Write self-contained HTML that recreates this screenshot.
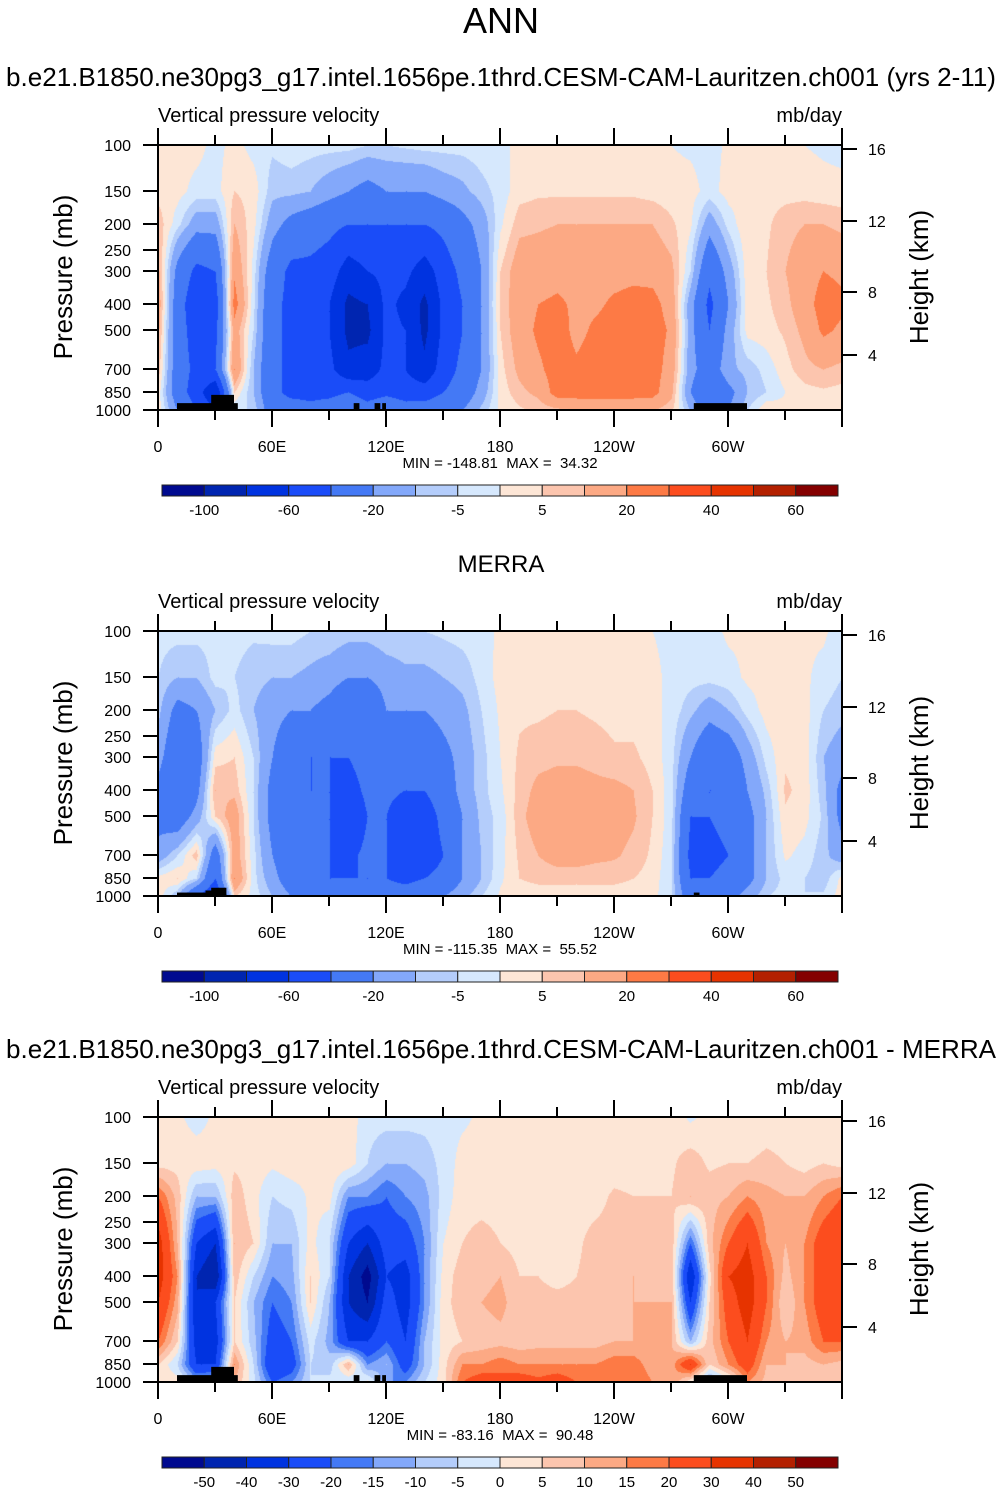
<!DOCTYPE html>
<html><head><meta charset="utf-8">
<style>
body{margin:0;background:#fff;width:1001px;height:1492px;position:relative;overflow:hidden;font-family:"Liberation Sans",Arial,sans-serif;}
svg{position:absolute;left:0;top:0}
canvas{position:absolute}
</style></head>
<body>
<canvas id="c1" width="684" height="265" style="left:158px;top:145px"></canvas>
<canvas id="c2" width="684" height="265" style="left:158px;top:631px"></canvas>
<canvas id="c3" width="684" height="265" style="left:158px;top:1117px"></canvas>
<svg id="ov" width="1001" height="1492"></svg>
<script>
// pressure rows (mb) and longitude columns (deg east)
const levels = [100,150,200,300,400,500,700,850,1000];
const lons = [0,10,20,30,40,50,60,70,80,90,100,110,120,130,140,150,160,170,180,190,200,210,220,230,240,250,260,270,280,290,300,310,320,330,340,350,360];
// panel 1: model (each row = one longitude, values top->bottom by level)
const modelVals = [
[2,3,8,12,15,12,8,3,3],[2,2,-3,-25,-30,-30,-30,-30,-20],[2,-2,-15,-45,-55,-50,-45,-50,-40],[-2,-2,-15,-40,-50,-45,-40,-80,-60],
[2,5,10,18,25,15,20,5,-5],[-2,3,2,-2,-3,-5,-10,-10,-5],[-4,-8,-15,-30,-35,-35,-35,-35,-30],[-2,-8,-25,-45,-45,-45,-45,-45,-30],
[-3,-10,-30,-45,-45,-45,-45,-45,-35],[-3,-15,-35,-50,-60,-60,-55,-45,-30],[-3,-20,-40,-70,-85,-85,-75,-40,-20],[-5,-25,-40,-60,-80,-85,-70,-50,-30],
[-5,-20,-40,-55,-55,-55,-55,-45,-20],[-4,-20,-40,-55,-65,-60,-60,-50,-30],[-3,-20,-40,-70,-85,-85,-75,-50,-30],[-3,-15,-35,-50,-55,-55,-50,-40,-25],
[-3,-12,-25,-35,-40,-40,-35,-30,-20],[-2,-7,-15,-20,-20,-20,-20,-15,-8],[-1,-3,-1,5,6,5,3,2,1],[1,3,8,15,15,15,12,8,4],
[2,4,9,15,20,22,18,12,6],[2,4,10,16,22,25,25,25,8],[2,4,10,16,18,17,22,25,10],[2,4,10,16,18,22,25,25,10],
[2,4,10,16,22,25,26,25,10],[2,4,10,17,24,26,26,25,10],[1,3,10,16,24,26,25,24,10],[0,2,6,12,15,18,15,12,6],
[-1,2,1,-5,-15,-15,-15,-20,-10],[-2,-2,-15,-35,-45,-40,-30,-40,-30],[1,2,-3,-15,-20,-15,-12,-25,-20],[2,2,4,3,3,2,-8,-10,-5],
[2,3,4,5,4,3,-3,-5,5],[1,3,8,10,8,6,3,0,2],[0,3,10,15,15,12,8,3,2],[-1,2,10,20,25,22,10,4,2],[-2,2,8,18,22,18,8,3,2]];
// panel 2: MERRA
const merraVals = [
[-3,-5,-8,-15,-25,-25,-15,2,3],[-3,-10,-25,-35,-40,-30,-5,5,-10],[-3,-10,-20,-30,-25,-15,8,-5,-40],[-3,-3,-10,3,10,5,-30,-40,-60],
[-3,-5,-3,5,8,15,15,20,5],[-4,-8,-10,-5,-5,-5,-3,-3,-2],[-3,-10,-15,-20,-25,-25,-20,-15,-10],[-3,-10,-20,-35,-35,-35,-35,-30,-20],
[-5,-12,-20,-40,-40,-35,-35,-35,-25],[-5,-15,-25,-40,-40,-40,-40,-40,-30],[-7,-20,-35,-40,-50,-60,-45,-40,-25],[-7,-20,-35,-30,-35,-40,-35,-40,-25],
[-5,-15,-20,-25,-35,-40,-40,-40,-30],[-5,-12,-20,-35,-40,-55,-55,-45,-30],[-5,-12,-20,-35,-40,-50,-50,-40,-25],[-4,-10,-15,-25,-30,-35,-40,-35,-20],
[-3,-8,-12,-15,-15,-20,-20,-20,-12],[-2,-3,-5,-7,-7,-8,-10,-10,-5],[1,2,1,0,-1,-3,-2,-1,1],[1,2,4,6,7,8,6,5,3],
[1,2,4,8,12,14,10,6,3],[1,2,5,9,13,16,14,6,3],[1,2,5,9,13,15,14,6,3],[1,2,4,8,12,14,12,6,3],
[1,2,3,6,12,14,11,6,3],[1,2,3,6,10,11,8,5,3],[0,2,2,3,5,5,4,3,2],[-2,-2,-2,-3,-3,-3,-4,-5,-5],
[-2,-3,-8,-20,-30,-40,-45,-40,-30],[-2,-3,-15,-35,-40,-40,-45,-40,-30],[1,-2,-10,-30,-40,-35,-40,-35,-25],[1,1,-3,-15,-20,-25,-25,-25,-15],
[1,2,2,-3,-8,-10,-10,-10,-5],[1,2,3,4,6,4,1,-3,-3],[1,1,2,3,3,2,-2,-5,-5],[1,-2,-5,-10,-8,-6,-8,-8,-4],[-3,-5,-8,-15,-25,-25,-15,2,3]];
// panel 3: model - MERRA
const diffVals = [
[1,3,20,35,35,30,20,5,3],[1,3,8,10,15,12,5,-5,3],[-2,3,-10,-30,-40,-40,-35,-30,-10],[1,2,-10,-40,-50,-30,-35,-30,-5],
[3,4,8,10,8,5,5,15,10],[3,3,2,5,-5,-10,-8,-5,-3],[1,1,-5,-10,-15,-20,-25,-30,-20],[2,3,-3,-10,-12,-15,-20,-25,-15],
[1,2,1,2,5,5,-3,-5,-5],[1,4,2,-5,-5,-10,-12,-8,-3],[3,3,-15,-30,-40,-40,-30,10,-5],[-3,-5,-15,-40,-55,-50,-30,-15,2],
[-3,-10,-20,-25,-30,-25,-20,-10,-15],[-3,-10,-15,-25,-35,-35,-30,-25,-15],[-3,-8,-12,-15,-15,-15,-10,-10,-5],[-2,-3,-3,0,2,3,2,3,3],
[-1,2,3,5,8,8,5,15,20],[1,2,3,7,8,10,7,15,25],[1,2,3,5,10,12,8,18,22],[1,3,3,3,5,6,7,15,25],
[2,3,3,4,5,6,8,15,22],[1,2,3,4,4,6,8,15,25],[1,3,3,4,5,6,8,15,20],[1,2,3,7,7,6,8,15,20],
[1,2,6,7,8,8,10,18,20],[1,2,5,8,10,10,10,18,20],[2,3,5,8,8,10,10,12,15],[3,4,5,8,8,10,10,12,15],
[-1,8,10,-20,-40,-30,-10,30,0],[2,4,8,8,3,5,8,5,-15],[2,5,10,20,30,25,20,15,-5],[2,5,15,30,35,35,30,25,15],
[3,6,12,15,20,20,15,10,8],[3,5,10,10,8,5,10,10,8],[1,3,10,15,15,15,12,8,5],[1,5,15,25,25,25,20,10,5],[1,3,20,30,30,30,20,8,5]];
const absBounds = [-100,-80,-60,-40,-20,-10,-5,0,5,10,20,30,40,50,60];
const diffBounds = [-50,-40,-30,-20,-15,-10,-5,0,5,10,15,20,30,40,50];
const absLabels = ["-100","","-60","","-20","","-5","","5","","20","","40","","60"];
const diffLabels = ["-50","-40","-30","-20","-15","-10","-5","0","5","10","15","20","30","40","50"];
const palette = ["#000a8f","#0025b0","#0033e0","#1a4cf8","#4479f5","#83a8fa","#b4cdfb","#d6e8fd","#fde6d6","#fcc5ae","#fca984","#fd7a45","#fc4d1e","#e63300","#b32000","#840000"];
const yTickLabels = ["100","150","200","250","300","400","500","700","850","1000"];
const yTickP = [100,150,200,250,300,400,500,700,850,1000];
const hTickLabels = ["16","12","8","4"];
const hTickKm = [16,12,8,4];
const xTickLabels = ["0","60E","120E","180","120W","60W"];
const xTickLon = [0,60,120,180,240,300];
const panelTitles = ["b.e21.B1850.ne30pg3_g17.intel.1656pe.1thrd.CESM-CAM-Lauritzen.ch001 (yrs 2-11)","MERRA","b.e21.B1850.ne30pg3_g17.intel.1656pe.1thrd.CESM-CAM-Lauritzen.ch001 - MERRA"];
const minMax = ["MIN = -148.81  MAX =  34.32","MIN = -115.35  MAX =  55.52","MIN = -83.16  MAX =  90.48"];
// terrain blocks [lon0, lon1, surface height above 1000mb line in km-ish units]
const terrainModel = [[10,42,0.5],[28,40,1.1],[103,106,0.5],[114,117,0.5],[118,120,0.5],[282,310,0.5]];
const terrainMerra = [[10,35,0.25],[25,35,0.4],[28,36,0.6],[282,285,0.25]];

// axis functions
const PW=684, PH=265;
const pPix=[[100,0],[150,46],[200,79],[250,105],[300,126],[400,159],[500,185],[700,224],[850,247],[1000,265]];
const kmPix=[[16,4],[12,76],[8,147],[4,210],[0,265]];
function yOfP(p){for(let i=0;i<pPix.length-1;i++){const a=pPix[i],b=pPix[i+1];if(p<=b[0]){const t=(Math.log(p)-Math.log(a[0]))/(Math.log(b[0])-Math.log(a[0]));return a[1]+t*(b[1]-a[1]);}}return PH;}
function yOfKm(k){for(let i=0;i<kmPix.length-1;i++){const a=kmPix[i],b=kmPix[i+1];if(k>=b[0]){return a[1]+(a[0]-k)/(a[0]-b[0])*(b[1]-a[1]);}}return PH;}
function xOfLon(l){return l/360*PW;}
function colorFor(v,b){let i=0;while(i<b.length&&v>=b[i])i++;return palette[i];}
function hex(c){return [parseInt(c.slice(1,3),16),parseInt(c.slice(3,5),16),parseInt(c.slice(5,7),16)];}

function drawField(id,vals,bounds){
  const cv=document.getElementById(id),ctx=cv.getContext('2d');
  const img=ctx.createImageData(PW,PH);
  const rowY=levels.map(yOfP);
  const colX=lons.map(xOfLon);
  for(let y=0;y<PH;y++){
    let r=0;while(r<rowY.length-2&&y>rowY[r+1])r++;
    const ty=Math.min(1,Math.max(0,(y-rowY[r])/(rowY[r+1]-rowY[r])));
    for(let x=0;x<PW;x++){
      let c=Math.min(lons.length-2,Math.floor(x/(colX[1]-colX[0])));
      const tx=(x-colX[c])/(colX[c+1]-colX[c]);
      const v=(1-tx)*((1-ty)*vals[c][r]+ty*vals[c][r+1])+tx*((1-ty)*vals[c+1][r]+ty*vals[c+1][r+1]);
      const col=hex(colorFor(v,bounds));const k=(y*PW+x)*4;
      img.data[k]=col[0];img.data[k+1]=col[1];img.data[k+2]=col[2];img.data[k+3]=255;
    }
  }
  ctx.putImageData(img,0,0);
}
drawField('c1',modelVals,absBounds);
drawField('c2',merraVals,absBounds);
drawField('c3',diffVals,diffBounds);

const ov=document.getElementById('ov');const NS='http://www.w3.org/2000/svg';
function mk(tag,attrs,txt){const e=document.createElementNS(NS,tag);for(const k in attrs)e.setAttribute(k,attrs[k]);if(txt!==undefined)e.textContent=txt;ov.appendChild(e);return e;}

let e=mk('text',{x:501,y:33,'font-size':36,'text-anchor':'middle'},'ANN');



const offs=[0,486,972];
offs.forEach((o,pi)=>{
  const L=158,T=145+o;
  const bounds=pi===2?diffBounds:absBounds;const labs=pi===2?diffLabels:absLabels;
  e=mk('text',{x:501,y:86+o,'font-size':pi===1?24:26,'text-anchor':'middle',textLength:pi===1?'':'990',lengthAdjust:'spacingAndGlyphs'},panelTitles[pi]);
  if(pi===1)e.removeAttribute('textLength');
  
  
  e=mk('text',{x:L,y:122+o,'font-size':20},'Vertical pressure velocity');
  
  
  e=mk('text',{x:842,y:122+o,'font-size':20,'text-anchor':'end'},'mb/day');
  
  
  // terrain
  (pi===1?terrainMerra:terrainModel).forEach(t=>{
    const yt=yOfKm(t[2]);
    e=mk('rect',{x:L+xOfLon(t[0]),y:T+yt,width:xOfLon(t[1]-t[0]),height:PH-yt,fill:'#000'});
    
    
  });
  e=mk('rect',{x:L,y:T,width:PW,height:PH,fill:'none',stroke:'#000','stroke-width':2});
  
  
  for(let lon=0;lon<=360;lon+=30){
    const x=L+xOfLon(lon),len=lon%60===0?17:10;
    mk('line',{x1:x,y1:T,x2:x,y2:T-len,stroke:'#000','stroke-width':2});
    mk('line',{x1:x,y1:T+PH,x2:x,y2:T+PH+len,stroke:'#000','stroke-width':2});
  }
  xTickLon.forEach((lon,i)=>{
    e=mk('text',{x:L+xOfLon(lon),y:T+PH+42,'font-size':16,'text-anchor':'middle'},xTickLabels[i]);
    
    
  });
  yTickP.forEach((p,i)=>{
    const y=T+yOfP(p);
    mk('line',{x1:L,y1:y,x2:L-15,y2:y,stroke:'#000','stroke-width':2});
    e=mk('text',{x:131,y:y+6,'font-size':16,'text-anchor':'end'},yTickLabels[i]);
    
    
  });
  hTickKm.forEach((k,i)=>{
    const y=T+yOfKm(k);
    mk('line',{x1:L+PW,y1:y,x2:L+PW+15,y2:y,stroke:'#000','stroke-width':2});
    e=mk('text',{x:868,y:y+6,'font-size':16},hTickLabels[i]);
    
    
  });
  e=mk('text',{x:0,y:0,'font-size':26,'text-anchor':'middle',transform:`translate(72,${T+132}) rotate(-90)`},'Pressure (mb)');
  
  
  e=mk('text',{x:0,y:0,'font-size':26,'text-anchor':'middle',transform:`translate(928,${T+132}) rotate(-90)`},'Height (km)');
  
  
  e=mk('text',{x:500,y:T+323,'font-size':15,'text-anchor':'middle',style:'white-space:pre'},minMax[pi]);
  
  
  const cbx=162,cbw=(838-162)/16,cby=T+340;
  palette.forEach((c,i)=>{
    e=mk('rect',{x:cbx+i*cbw,y:cby,width:cbw,height:11,fill:c,stroke:'#222','stroke-width':1});
    
    
  });
  bounds.forEach((b,i)=>{
    if(!labs[i])return;
    e=mk('text',{x:cbx+(i+1)*cbw,y:cby+30,'font-size':15,'text-anchor':'middle'},labs[i]);
    
    
  });
});
</script>
</body></html>
